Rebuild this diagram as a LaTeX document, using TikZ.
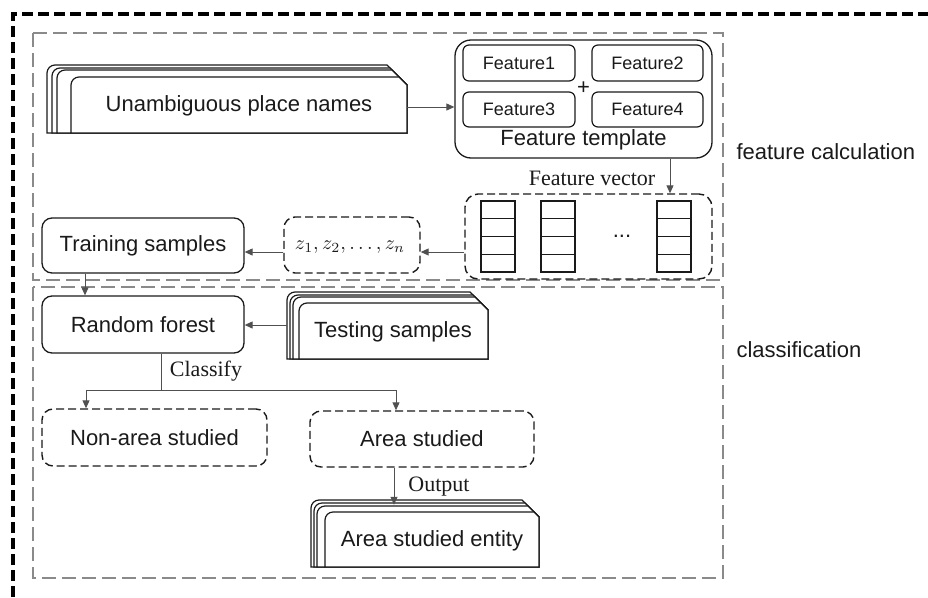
\documentclass[tikz,border=0pt]{standalone}
\usepackage{graphicx}
\usepackage{fontspec}
\setmainfont{Liberation Sans}
\newfontfamily\labelserif{Liberation Serif}
\usetikzlibrary{arrows.meta,calc}

\definecolor{panelgray}{HTML}{8A8A8A}
\definecolor{inkdark}{HTML}{1A1A1A}
\definecolor{wiregray}{HTML}{505050}

\tikzset{
  mainfont/.style={font=\fontsize{22}{26}\selectfont, text=inkdark},
  smallfont/.style={font=\fontsize{18}{22}\selectfont, text=inkdark},
  edgefont/.style={font=\labelserif\fontsize{22}{26}\selectfont, text=inkdark},
  solidbox/.style={draw=inkdark, line width=1.3pt, rounded corners=10pt, inner sep=0pt, mainfont},
  dashbox/.style={draw=inkdark, line width=1.4pt, dash pattern=on 8pt off 4pt, rounded corners=11pt, inner sep=0pt, mainfont},
  featbox/.style={draw=inkdark, line width=1.2pt, rounded corners=6pt, inner sep=0pt, smallfont},
  panel/.style={draw=panelgray, line width=2.8pt, dash pattern=on 14pt off 6pt},
  outerframe/.style={draw=black, line width=3.5pt, dash pattern=on 11pt off 5pt},
  docline/.style={draw=inkdark, line width=1.2pt, fill=white},
  docarea/.style={inner sep=0pt},
  arr/.style={draw=wiregray, line width=1pt, -{Triangle[length=8pt,width=7pt]}},
  wire/.style={draw=wiregray, line width=1pt},
  cell/.style={draw=inkdark, line width=1.3pt},
}

% stacked document symbol: left, top, right, bottom, corner cut, layer offsets dx/dy
\newcommand\drawdocstack[6]{%
  \foreach \dx/\dy in {#6} {
    \pgfmathsetmacro\lx{#1+\dx}
    \pgfmathsetmacro\ty{#2+\dy}
    \pgfmathsetmacro\xe{#3-#5+\dy}
    \filldraw[docline] (\lx,#4) [rounded corners=8pt] -- (\lx,\ty) [sharp corners] -- (\xe,\ty) -- (#3,#2+#5) -- (#3,#4) -- cycle;
  }%
}

\begin{document}
\begin{tikzpicture}[x=1pt,y=-1pt]
\useasboundingbox (0,0) rectangle (928,597);

% outer frame (only top and left edges fall inside the page)
\draw[outerframe] (13,597) -- (13,14) -- (928,14);

% panels
\draw[panel] (33,33) rectangle (723,280);
\draw[panel] (33,287) rectangle (723,578);
\node[mainfont, anchor=west] (lblfeat) at (733,152) {feature calculation};
\node[mainfont, anchor=west] (lblclass) at (733,350) {classification};

% input place names
\drawdocstack{47}{65}{407}{133}{20}{0/0,5/3,10/5,24/12}
\node[docarea, minimum width=360pt, minimum height=68pt] (unamb) at (227,99) {};
\node[mainfont] (unambtxt) at (239,106) {Unambiguous place names};

% feature template
\node[solidbox, rounded corners=16pt, minimum width=257pt, minimum height=118pt] (tmpl) at (583.5,99) {};
\node[featbox, minimum width=112pt, minimum height=36pt] (f1) at (519,63) {Feature1};
\node[featbox, minimum width=111pt, minimum height=36pt] (f2) at (647.5,63) {Feature2};
\node[featbox, minimum width=112pt, minimum height=35pt] (f3) at (519,109.5) {Feature3};
\node[featbox, minimum width=111pt, minimum height=35pt] (f4) at (647.5,109.5) {Feature4};
\node[font=\fontsize{22}{26}\selectfont, text=inkdark, inner sep=0pt] (plus) at (583.5,88) {+};
\node[mainfont] (tmpltxt) at (583.5,140) {Feature template};

% feature vectors
\node[dashbox, rounded corners=13pt, minimum width=247pt, minimum height=85pt] (fvec) at (588.5,236.5) {};
\foreach \cx in {481,541,657} {
  \draw[cell] (\cx,201) rectangle (\cx+34,272);
  \foreach \k in {1,2,3} \draw[cell] (\cx,201+17.75*\k) -- (\cx+34,201+17.75*\k);
}
\node[mainfont] (vdots) at (622,236) {...};

% sample vector
\node[dashbox, minimum width=136pt, minimum height=56pt] (zbox) at (352,245) {};
\node[text=inkdark] (ztxt) at (350,247) {\scalebox{2}{$z_1,z_2,\ldots,z_n$}};

% training / testing / model
\node[solidbox, minimum width=202pt, minimum height=55pt] (train) at (143,245.5) {Training samples};
\node[solidbox, minimum width=202pt, minimum height=57pt] (rf) at (143,324.5) {Random forest};
\drawdocstack{287}{292}{488}{359}{18}{0/0,3/3,6/5,12/11}
\node[docarea, minimum width=201pt, minimum height=67pt] (test) at (387.5,325.5) {};
\node[mainfont] (testtxt) at (393,332) {Testing samples};

% classes
\node[dashbox, minimum width=225pt, minimum height=57pt] (nonarea) at (154.5,437.5) {Non-area studied};
\node[dashbox, minimum width=224pt, minimum height=56pt] (area) at (422,439) {Area studied};

% output entity
\drawdocstack{311}{500}{539}{567}{17}{0/0,3/3,6/6,14/12}
\node[docarea, minimum width=228pt, minimum height=67pt] (entity) at (425,533.5) {};
\node[mainfont] (entitytxt) at (432,541) {Area studied entity};

% connectors
\draw[arr] ($(unamb.east)+(0,8)$) -- ($(tmpl.west)+(0,8)$);
\draw[arr] ($(tmpl.south)+(86.5,0)$) -- ($(fvec.north)+(81.5,0)$);
\node[edgefont] (fvlbl) at (592,178) {Feature vector};
\draw[arr] ($(fvec.west)+(0,15.5)$) -- ($(zbox.east)+(0,7)$);
\draw[arr] ($(zbox.west)+(0,7)$) -- ($(train.east)+(0,6.5)$);
\draw[arr] ($(train.south)+(-58,0)$) -- ($(rf.north)+(-58,0)$);
\draw[arr] ($(test.west)+(0,-0.5)$) -- ($(rf.east)+(0,0.5)$);

\coordinate (split) at (161,390);
\draw[wire] ($(rf.south)+(18,0)$) -- (split);
\draw[arr] (split) -| ($(nonarea.north)+(-68.5,0)$);
\draw[arr] (split) -| ($(area.north)+(-26,0)$);
\node[edgefont] (classlbl) at (206,371) {Classify};

\draw[arr] ($(area.south)+(-28,0)$) -- ($(entity.north)+(-31,5)$);
\node[edgefont] (outlbl) at (439,487) {Output};
\end{tikzpicture}
\end{document}
